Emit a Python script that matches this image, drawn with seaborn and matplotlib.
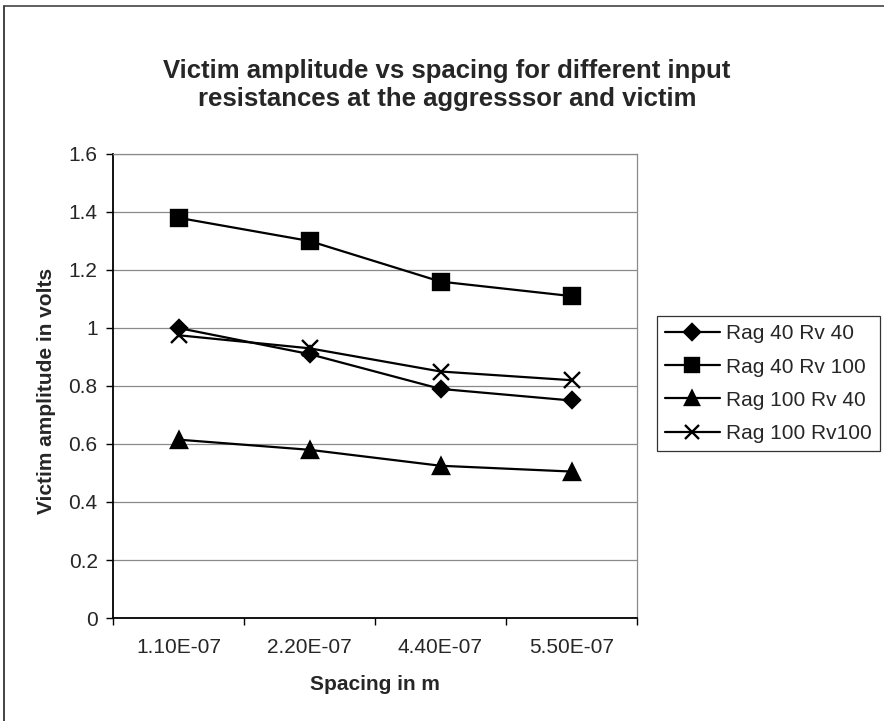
import matplotlib
matplotlib.use("Agg")
import matplotlib.pyplot as plt
import pandas as pd
import seaborn as sns
from matplotlib.lines import Line2D

# Spacing categories (m) and victim amplitudes (V) for each resistance pair
spacing = ["1.10E-07", "2.20E-07", "4.40E-07", "5.50E-07"]
rag40_rv40 = [1.00, 0.91, 0.79, 0.75]
rag40_rv100 = [1.38, 1.30, 1.16, 1.11]
rag100_rv40 = [0.615, 0.58, 0.525, 0.505]
rag100_rv100 = [0.975, 0.93, 0.85, 0.82]
series_names = ["Rag 40 Rv 40", "Rag 40 Rv 100", "Rag 100 Rv 40", "Rag 100 Rv100"]
y_ticks = [0, 0.2, 0.4, 0.6, 0.8, 1, 1.2, 1.4, 1.6]
y_tick_labels = ["0", "0.2", "0.4", "0.6", "0.8", "1", "1.2", "1.4", "1.6"]

series_values = [rag40_rv40, rag40_rv100, rag100_rv40, rag100_rv100]
rows = []
for name, vals in zip(series_names, series_values):
    for i, (s, v) in enumerate(zip(spacing, vals)):
        rows.append({"pos": i, "spacing": s, "amplitude": v, "series": name})
df = pd.DataFrame(rows)

sns.set_theme(style="white")
plt.rcParams["font.family"] = ["Liberation Sans", "DejaVu Sans"]

W, H = 884, 721
fig = plt.figure(figsize=(W / 100, H / 100), dpi=100)
ax_l, ax_r, ax_t, ax_b = 113, 637, 154, 618
ax = fig.add_axes([ax_l / W, 1 - ax_b / H, (ax_r - ax_l) / W, (ax_b - ax_t) / H])

markers = {"Rag 40 Rv 40": "D", "Rag 40 Rv 100": "s",
           "Rag 100 Rv 40": "^", "Rag 100 Rv100": "x"}
msizes = {"Rag 40 Rv 40": 8.5, "Rag 40 Rv 100": 11,
          "Rag 100 Rv 40": 11, "Rag 100 Rv100": 11}

for name in series_names:
    sub = df[df["series"] == name]
    sns.lineplot(data=sub, x="pos", y="amplitude", ax=ax, color="black",
                 linewidth=1.6, marker=markers[name], markersize=msizes[name],
                 markeredgecolor="black", markerfacecolor="black",
                 markeredgewidth=1.7, legend=False, zorder=3)

tick_fs = 15
ax.set_xlim(-0.5, len(spacing) - 0.5)
ax.set_ylim(0, 1.6)
ax.set_yticks(y_ticks)
ax.set_yticklabels(y_tick_labels, fontsize=tick_fs)
ax.set_xticks(range(len(spacing)))
ax.set_xticklabels(spacing, fontsize=tick_fs)
ax.set_xticks([i - 0.5 for i in range(len(spacing) + 1)], minor=True)
ax.tick_params(axis="x", which="major", length=0, pad=14.5)
ax.tick_params(axis="x", which="minor", length=5, width=1, direction="out",
               color="black", bottom=True)
ax.tick_params(axis="y", which="major", length=5, width=1, direction="out",
               color="black", left=True, pad=6)

ax.yaxis.grid(True, color="#8a8a8a", linewidth=0.9)
ax.xaxis.grid(False)
ax.set_axisbelow(True)
for side in ["left", "bottom"]:
    ax.spines[side].set_color("black")
    ax.spines[side].set_linewidth(1.3)
for side in ["top", "right"]:
    ax.spines[side].set_color("#8a8a8a")
    ax.spines[side].set_linewidth(0.9)

ax.set_xlabel("Spacing in m", fontsize=15, fontweight="bold", labelpad=12.5)
ax.set_ylabel("Victim amplitude in volts", fontsize=15, fontweight="bold")
ax.yaxis.set_label_coords((56 - ax_l) / (ax_r - ax_l), 0.49)

fig.text(447 / W, 1 - 85 / H,
         "Victim amplitude vs spacing for different input\nresistances at the aggresssor and victim",
         ha="center", va="center", fontsize=18.5, fontweight="bold",
         linespacing=1.2)

handles = [Line2D([0], [0], color="black", linewidth=1.6, marker=markers[n],
                  markersize=msizes[n] * 0.95, markerfacecolor="black",
                  markeredgecolor="black", markeredgewidth=1.7)
           for n in series_names]
leg = fig.legend(handles, series_names, loc="upper left",
                 bbox_to_anchor=(657 / W, 1 - 316 / H),
                 fontsize=15, frameon=True, fancybox=False,
                 edgecolor="black", handlelength=2.6, handletextpad=0.3,
                 borderpad=0.4, labelspacing=0.68, borderaxespad=0)
leg.get_frame().set_linewidth(0.9)

# Outer chart border (left and top edges)
fig.add_artist(Line2D([4 / W, 4 / W], [0, 1 - 6 / H], transform=fig.transFigure,
                      color="#222222", linewidth=1.2))
fig.add_artist(Line2D([4 / W, 1], [1 - 6 / H, 1 - 6 / H], transform=fig.transFigure,
                      color="#444444", linewidth=1.2))

fig.savefig("out.png", dpi=100, facecolor="white")
